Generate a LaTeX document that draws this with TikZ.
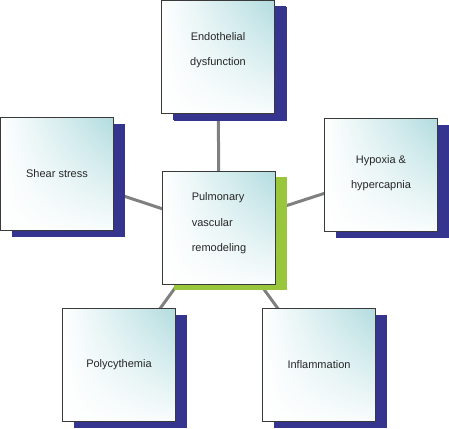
\documentclass[tikz,border=0pt]{standalone}
\usepackage{fontspec}
\setmainfont{Liberation Sans}
\usetikzlibrary{shadows,shadings,backgrounds}
\definecolor{navyshadow}{HTML}{35358F}
\definecolor{greenshadow}{HTML}{9AC63C}
\definecolor{tealfill}{HTML}{B2DCDF}
\definecolor{boxline}{HTML}{3A3A3A}
\definecolor{linkgray}{HTML}{808080}
\tikzset{
  box/.style={draw=boxline, line width=1pt, minimum width=113pt, minimum height=113pt,
    inner sep=0pt, lower left=white, upper left=white, upper right=tealfill,
    lower right=tealfill!8!white,
    drop shadow={shadow xshift=11pt, shadow yshift=-6pt, fill=navyshadow, opacity=1}},
  txt/.style={font=\fontsize{11}{25.5}\selectfont, align=center, inner sep=0pt, text=black!85},
  link/.style={draw=linkgray, line width=3pt}
}
\begin{document}
\begin{tikzpicture}[x=1pt, y=-1pt]
\useasboundingbox (0,0) rectangle (449,428);
\node[box, drop shadow={shadow xshift=12pt, shadow yshift=-7pt, fill=navyshadow, opacity=1}] (top) at (218,57) {};
\node[box] (shear) at (57,174) {};
\node[box] (hyp) at (381,175) {};
\node[box] (poly) at (119,365) {};
\node[box] (infl) at (319,365) {};
\node[box, drop shadow={shadow xshift=11pt, shadow yshift=-6pt, fill=greenshadow, opacity=1}] (cen) at (219,227.5) {};
\begin{scope}[on background layer]
\draw[link] (cen.center) -- (top.center);
\draw[link] (cen.center) -- (shear.center);
\draw[link] (cen.center) -- (hyp.center);
\draw[link] (cen.center) -- (poly.center);
\draw[link] (cen.center) -- (infl.center);
\end{scope}
\node[txt] (ttop) at ([yshift=7pt]top.center) {Endothelial\\dysfunction};
\node[txt] (tshear) at (shear.center) {Shear stress};
\node[txt] (thyp) at ([yshift=2pt]hyp.center) {Hypoxia \&\\hypercapnia};
\node[txt] (tpoly) at (poly.center) {Polycythemia};
\node[txt] (tinfl) at (infl.center) {Inflammation};
\node[txt, align=left] (tcen) at ([yshift=4pt]cen.center) {Pulmonary\\vascular\\remodeling};
\end{tikzpicture}
\end{document}
